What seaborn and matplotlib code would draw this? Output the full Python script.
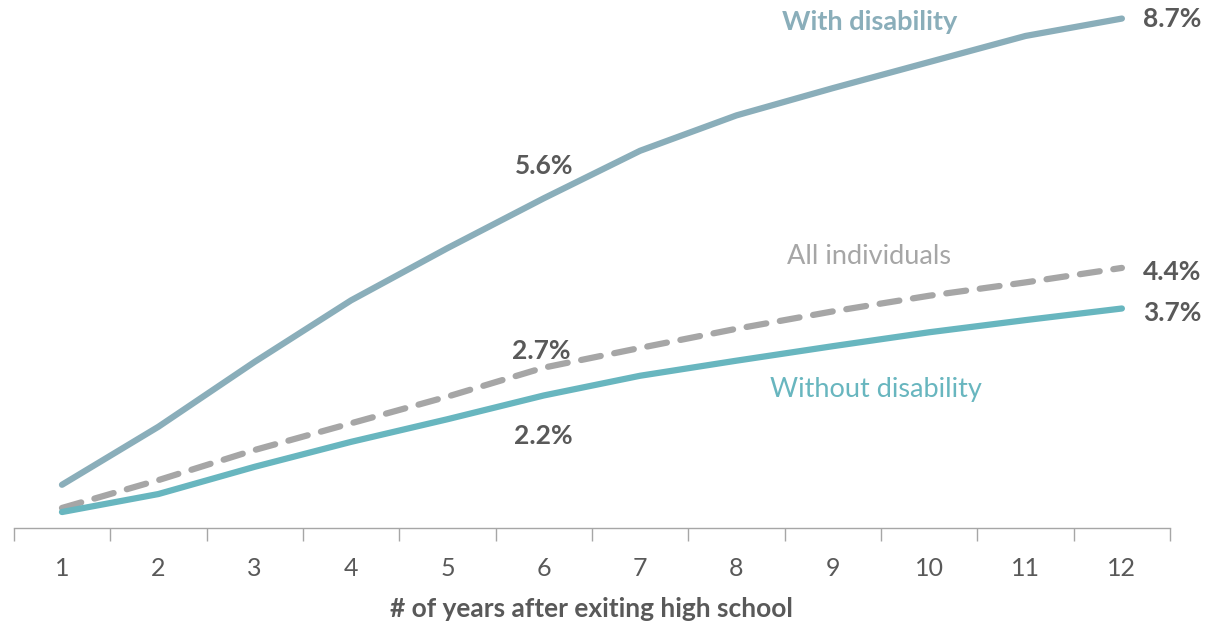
import numpy as np
import pandas as pd
import matplotlib
matplotlib.use("Agg")
import matplotlib.pyplot as plt
import seaborn as sns

# data (% of people, by years after leaving high school)
years = list(range(1, 13))
with_disability = [0.66, 1.66, 2.78, 3.84, 4.74, 5.6, 6.42, 7.03, 7.5, 7.95, 8.4, 8.7]
all_individuals = [0.26, 0.74, 1.26, 1.72, 2.18, 2.68, 3.02, 3.35, 3.65, 3.92, 4.15, 4.4]
without_disability = [0.19, 0.5, 0.97, 1.4, 1.79, 2.2, 2.54, 2.8, 3.05, 3.29, 3.5, 3.7]

col_with = '#8AAEBA'
col_without = '#68B6BF'
col_all = '#A6A6A6'
col_text = '#595959'

sns.set_theme(style="white")
plt.rcParams['font.family'] = ['Lato', 'DejaVu Sans']

df = pd.DataFrame({
    'year': years * 3,
    'value': with_disability + all_individuals + without_disability,
    'group': ['With disability'] * 12 + ['All individuals'] * 12 + ['Without disability'] * 12,
})

fig = plt.figure(figsize=(12.1, 6.26), dpi=100)
ax = fig.add_axes([0.0114, 0.1565, 0.9556, 0.8435])

sns.lineplot(data=df, x='year', y='value', hue='group', style='group',
             palette={'With disability': col_with, 'All individuals': col_all,
                      'Without disability': col_without},
             dashes={'With disability': '', 'All individuals': (3.2, 2.2),
                     'Without disability': ''},
             linewidth=4.5, legend=False, ax=ax)
for ln in ax.lines:
    ln.set_solid_capstyle('round')
    ln.set_solid_joinstyle('round')
    ln.set_dash_capstyle('round')

ax.set_xlim(0.5, 12.5)
ax.set_ylim(-0.086, 9.02)

# category-style axis: labels at integers, ticks at boundaries
ax.set_xticks(years)
ax.set_xticklabels([str(y) for y in years])
ax.set_xticks(np.arange(0.5, 12.6, 1), minor=True)
ax.tick_params(axis='x', which='major', length=0, pad=21, labelsize=18, labelcolor=col_text)
ax.tick_params(axis='x', which='minor', length=9, width=1, color='#A6A6A6', direction='out', bottom=True)
ax.set_yticks([])
ax.set_ylabel('')
ax.set_xlabel('# of years after exiting high school', fontsize=19, fontweight='bold',
              color=col_text, labelpad=12)

for side in ['top', 'right', 'left']:
    ax.spines[side].set_visible(False)
ax.spines['bottom'].set_color('#A6A6A6')
ax.spines['bottom'].set_linewidth(1)

# value labels, tied to the data points
i6 = years.index(6)
lbl = dict(fontsize=19, fontweight='bold', color=col_text, textcoords='offset points')
ax.annotate(f'{with_disability[i6]:.1f}%', (6, with_disability[i6]), xytext=(0, 23),
            ha='center', va='center', **lbl)
ax.annotate(f'{all_individuals[i6]:.1f}%', (6, all_individuals[i6]), xytext=(-2, 12),
            ha='center', va='center', **lbl)
ax.annotate(f'{without_disability[i6]:.1f}%', (6, without_disability[i6]), xytext=(0, -29),
            ha='center', va='center', **lbl)
ax.annotate(f'{with_disability[-1]:.1f}%', (12, with_disability[-1]), xytext=(15, 0),
            ha='left', va='center', **lbl)
ax.annotate(f'{all_individuals[-1]:.1f}%', (12, all_individuals[-1]), xytext=(15, -3),
            ha='left', va='center', **lbl)
ax.annotate(f'{without_disability[-1]:.1f}%', (12, without_disability[-1]), xytext=(15, -3),
            ha='left', va='center', **lbl)

# series names
ax.text(9.38, 8.64, 'With disability', fontsize=19.5, fontweight='bold', color=col_with,
        ha='center', va='center')
ax.text(9.38, 4.59, 'All individuals', fontsize=19.5, color=col_all, ha='center', va='center')
ax.text(9.45, 2.31, 'Without disability', fontsize=19.5, color=col_without, ha='center', va='center')

fig.savefig('out.png', dpi=100)
